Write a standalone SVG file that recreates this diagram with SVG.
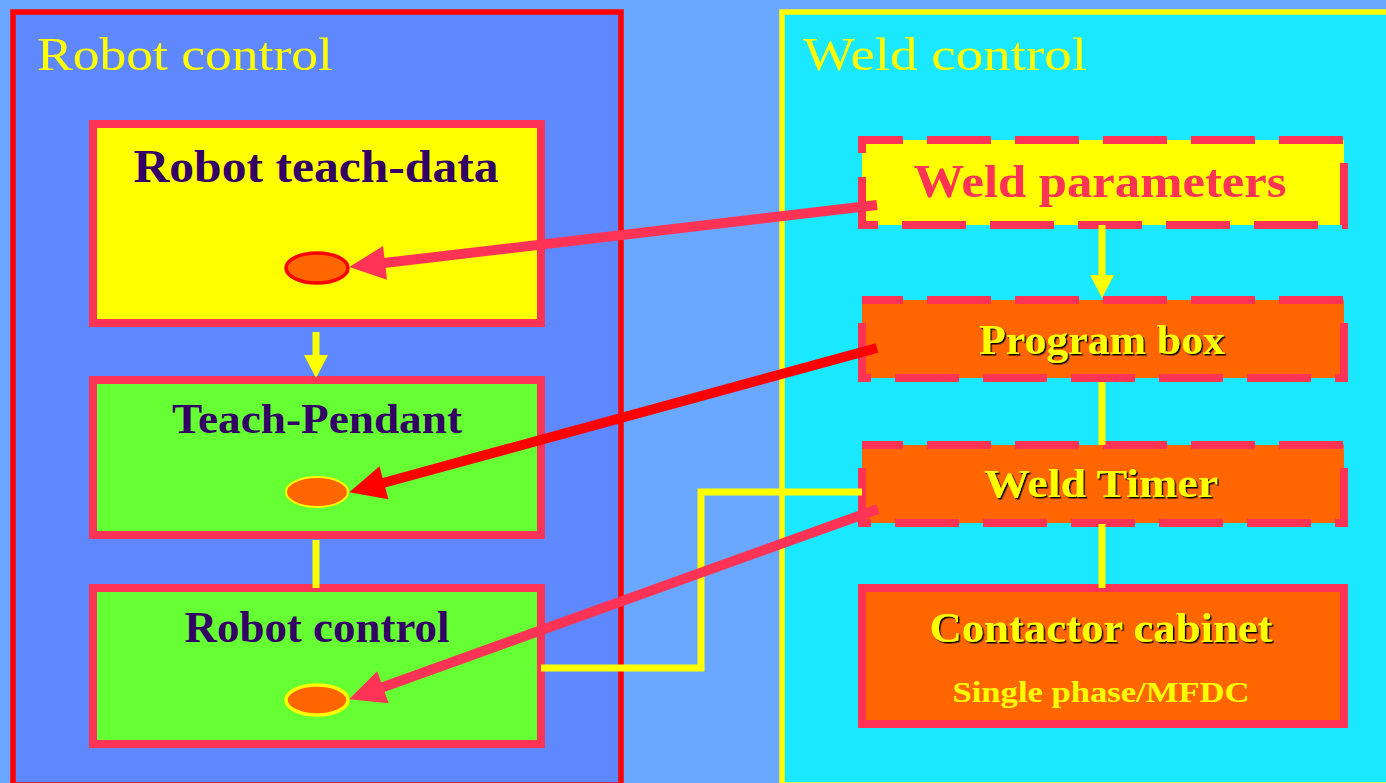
<svg xmlns="http://www.w3.org/2000/svg" width="1386" height="783" viewBox="0 0 1386 783">
<style>
.title{font-family:"Liberation Serif",serif;font-size:47px;fill:#ffff00}
.lbl{font-family:"Liberation Serif",serif;font-weight:bold;text-anchor:middle}
.dark{fill:#330066}
.yel{fill:#ffff00}
.box{stroke:#ff3355;stroke-width:8}
.dash{stroke-dasharray:64 24;stroke-dashoffset:23}
.ylw{stroke:#ffff00;stroke-width:7;fill:none}
.pink{stroke:#ff3355;stroke-width:10;fill:none}
.red{stroke:#ff0000;stroke-width:10;fill:none}
</style>
<defs>
<filter id="sh" x="-10%" y="-20%" width="130%" height="150%">
<feDropShadow dx="1.5" dy="1.5" stdDeviation="0.4" flood-color="#000000" flood-opacity="1"/>
</filter>
<marker id="hPink" markerUnits="userSpaceOnUse" orient="auto" refX="1" refY="0" markerWidth="40" markerHeight="40" overflow="visible"><path d="M0,-17 L36,0 L0,17 z" fill="#ff3355"/></marker>
<marker id="hRed" markerUnits="userSpaceOnUse" orient="auto" refX="1" refY="0" markerWidth="40" markerHeight="40" overflow="visible"><path d="M0,-17 L36,0 L0,17 z" fill="#ff0000"/></marker>
<marker id="hYel" markerUnits="userSpaceOnUse" orient="auto" refX="1" refY="0" markerWidth="30" markerHeight="30" overflow="visible"><path d="M0,-12 L23,0 L0,12 z" fill="#ffff00"/></marker>
</defs>
<rect x="0" y="0" width="1386" height="783" fill="#6aa8ff"/>
<g id="panel-robot">
<rect x="13" y="12" width="608" height="773" fill="#5f88ff" stroke="#ff0000" stroke-width="5.5"/>
<text class="title" x="37" y="70" textLength="296" lengthAdjust="spacingAndGlyphs">Robot control</text>
</g>
<g id="panel-weld">
<rect x="782" y="12" width="640" height="773" fill="#1ae8ff" stroke="#ffff00" stroke-width="5.5"/>
<text class="title" x="803" y="70" textLength="284" lengthAdjust="spacingAndGlyphs">Weld control</text>
</g>
<g id="node-teachdata">
<rect class="box" x="93" y="124" width="448" height="199" fill="#ffff00"/>
<text class="lbl dark" x="316" y="182" font-size="46" textLength="365" lengthAdjust="spacingAndGlyphs">Robot teach-data</text>
<ellipse cx="317" cy="268" rx="31" ry="15" fill="#ff6600" stroke="#ff0000" stroke-width="3.5"/>
</g>
<g id="node-pendant">
<rect class="box" x="93" y="380" width="448" height="155" fill="#66ff33"/>
<text class="lbl dark" x="317" y="433" font-size="42" textLength="290" lengthAdjust="spacingAndGlyphs">Teach-Pendant</text>
<ellipse cx="317" cy="492" rx="31" ry="15" fill="#ff6600" stroke="#ffff00" stroke-width="2"/>
</g>
<g id="node-robotcontrol">
<rect class="box" x="93" y="588" width="448" height="156" fill="#66ff33"/>
<text class="lbl dark" x="317" y="642" font-size="44" textLength="265" lengthAdjust="spacingAndGlyphs">Robot control</text>
<ellipse cx="317" cy="700" rx="31" ry="15" fill="#ff6600" stroke="#ffff00" stroke-width="3.5"/>
</g>
<g id="node-weldparams">
<rect class="box dash" x="862" y="140" width="482" height="85" fill="#ffff00"/>
<text class="lbl" x="1100" y="197" font-size="47" fill="#ff3355" textLength="373" lengthAdjust="spacingAndGlyphs">Weld parameters</text>
</g>
<g id="node-programbox">
<rect class="box dash" x="862" y="300" width="482" height="78" fill="#ff6600"/>
<text class="lbl yel" x="1102" y="354" font-size="42" filter="url(#sh)" textLength="246" lengthAdjust="spacingAndGlyphs">Program box</text>
</g>
<g id="node-weldtimer">
<rect class="box dash" x="862" y="445" width="482" height="78" fill="#ff6600"/>
<text class="lbl yel" x="1101" y="497" font-size="41" filter="url(#sh)" textLength="234" lengthAdjust="spacingAndGlyphs">Weld Timer</text>
</g>
<g id="node-contactor">
<rect class="box" x="862" y="588" width="482" height="136" fill="#ff6600"/>
<text class="lbl yel" x="1101" y="642" font-size="42" filter="url(#sh)" textLength="343" lengthAdjust="spacingAndGlyphs">Contactor cabinet</text>
<text class="lbl yel" x="1101" y="702" font-size="29" textLength="297" lengthAdjust="spacingAndGlyphs">Single phase/MFDC</text>
</g>
<g id="connectors">
<line class="ylw" x1="316" y1="332" x2="316" y2="356" marker-end="url(#hYel)"/>
<line class="ylw" x1="316" y1="540" x2="316" y2="588"/>
<line class="ylw" x1="1102" y1="225" x2="1102" y2="276" marker-end="url(#hYel)"/>
<line class="ylw" x1="1102" y1="382" x2="1102" y2="445"/>
<line class="ylw" x1="1102" y1="524" x2="1102" y2="588"/>
<polyline class="ylw" points="541,668 701,668 701,492 862,492"/>
<line class="pink" x1="877" y1="205" x2="384" y2="263" marker-end="url(#hPink)"/>
<line class="red" x1="877" y1="348" x2="383" y2="483" marker-end="url(#hRed)"/>
<line class="pink" x1="878" y1="509" x2="382" y2="687.5" marker-end="url(#hPink)"/>
</g>
</svg>
